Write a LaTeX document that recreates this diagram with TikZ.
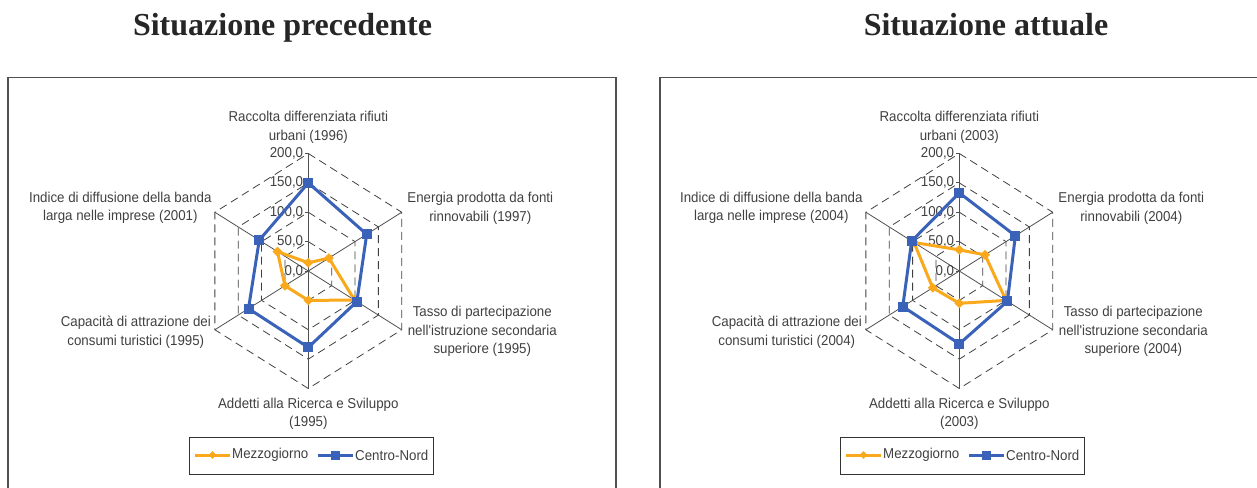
\documentclass[tikz,border=0pt]{standalone}
\usepackage{fontspec}
\setmainfont{Liberation Sans}
\newfontfamily\labfont[FakeStretch=0.93]{Liberation Sans}
\newfontfamily\titfont{Liberation Serif}
\usetikzlibrary{shapes.geometric}
\definecolor{mzorange}{RGB}{250,168,28}
\definecolor{cnblue}{RGB}{58,98,184}
\definecolor{txtgray}{RGB}{64,64,64}
\definecolor{axgray}{RGB}{80,80,80}
\tikzset{
 spoke/.style={axgray, line width=0.8pt},
 ring/.style={black!75, line width=0.8pt, dash pattern=on 8pt off 5pt},
 catlab/.style={font=\labfont\fontsize{14.3}{18.5}\selectfont, text=txtgray, align=center, inner sep=0},
 ticklab/.style={font=\labfont\fontsize{14.3}{18.5}\selectfont, text=txtgray, inner sep=1},
 mzline/.style={mzorange, line width=3pt, line join=round},
 cnline/.style={cnblue, line width=3pt},
 mzmark/.style={diamond, fill=mzorange, inner sep=0, minimum size=10pt},
 cnmark/.style={rectangle, fill=cnblue, inner sep=0, minimum size=10pt},
 chartframe/.style={draw=axgray, line width=1.4pt},
 legbox/.style={draw=black!80, line width=0.9pt, minimum width=244pt, minimum height=37pt},
 titlab/.style={font=\titfont\bfseries\fontsize{32}{38}\selectfont, text=black!85}
}
\begin{document}
\begin{tikzpicture}[x=1pt, y=-1pt]
\useasboundingbox (0,0) rectangle (1257,487);
\clip (0,0) rectangle (1257,487);
\node[titlab, anchor=base] (tit1) at (282.5,36) {Situazione precedente};
\node[titlab, anchor=base] (tit2) at (986,36) {Situazione attuale};
\draw[chartframe] (8,500) |- (616,77.5) -- (616,500);
\draw[chartframe] (660,500) |- (1270,77.5);
\foreach \cx/\ya/\yb/\yc/\yd/\ye/\yf/\cn/\mz [count=\k] in {
 308.3/1996/1997/1995/1995/1995/2001/{150,125,104,130,128,105}/{14,44,99,50,50,66},
 959.3/2003/2004/2004/2003/2004/2004/{133,120,103,124,121,102}/{36,55,100,55,57,97}}{
 \begin{scope}[shift={(\cx,271)}, xscale=0.5394, yscale=-0.5875]
  \foreach \r in {50,100,150,200}
   \draw[ring] (90:\r) -- (30:\r) -- (-30:\r) -- (-90:\r) -- (-150:\r) -- (150:\r) -- cycle;
  \foreach \a in {90,30,-30,-90,-150,150}
   \draw[spoke] (0,0) -- (\a:200);
  \foreach \r in {0,50,...,200}
   \draw[spoke] (0,\r) --++(-7,0) node[left, ticklab] (t\k-\r) {\r,0};
  \foreach \v [count=\i] in \mz
   \coordinate (mz\k-\i) at ({150-60*\i}:\v);
  \foreach \v [count=\i] in \cn
   \coordinate (cn\k-\i) at ({150-60*\i}:\v);
  \draw[mzline] (mz\k-1) -- (mz\k-2) -- (mz\k-3) -- (mz\k-4) -- (mz\k-5) -- (mz\k-6) -- cycle;
  \foreach \i in {1,...,6}
   \node[mzmark] (mzm\k-\i) at (mz\k-\i) {};
  \draw[cnline] (cn\k-1) -- (cn\k-2) -- (cn\k-3) -- (cn\k-4) -- (cn\k-5) -- (cn\k-6) -- cycle;
  \foreach \i in {1,...,6}
   \node[cnmark] (cnm\k-\i) at (cn\k-\i) {};
 \end{scope}
 \node[catlab] (top\k) at (\cx,127.5) {Raccolta differenziata rifiuti\\urbani (\ya)};
 \node[catlab] (ur\k) at (\cx+172,208.5) {Energia prodotta da fonti\\rinnovabili (\yb)};
 \node[catlab] (lr\k) at (\cx+174,331.5) {Tasso di partecipazione\\nell'istruzione secondaria\\superiore (\yc)};
 \node[catlab] (bot\k) at (\cx,414) {Addetti alla Ricerca e Sviluppo\\(\yd)};
 \node[catlab] (ll\k) at (\cx-172.5,332) {Capacità di attrazione dei\\consumi turistici (\ye)};
 \node[catlab] (ul\k) at (\cx-188,208) {Indice di diffusione della banda\\larga nelle imprese (\yf)};
 \node[legbox] (leg\k) at (\cx+2.7,455.5) {};
 \coordinate (mza\k) at (\cx-113.3,455);
 \draw[mzline] (mza\k) --++(35,0) node[midway, mzmark, minimum size=9pt] (mzk\k) {};
 \node[ticklab, anchor=west] (mzt\k) at (\cx-77.3,455) {Mezzogiorno};
 \coordinate (cna\k) at (\cx+9.7,455);
 \draw[cnline] (cna\k) --++(35,0) node[midway, cnmark, minimum size=9pt] (cnk\k) {};
 \node[ticklab, anchor=west] (cnt\k) at (\cx+45.7,455) {Centro-Nord};
}
\end{tikzpicture}
\end{document}
